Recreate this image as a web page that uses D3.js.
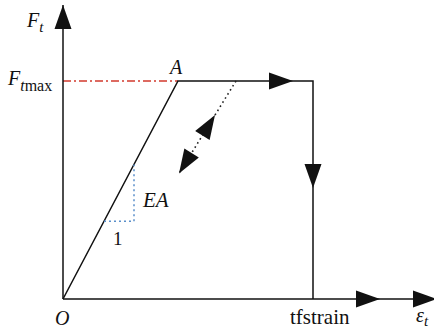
<!DOCTYPE html>
<html>
<head>
<meta charset="utf-8">
<script src="https://cdn.jsdelivr.net/npm/d3@7"></script>
<style>
  html, body { margin: 0; padding: 0; background: #fff; }
  svg { display: block; }
</style>
</head>
<body>
<svg id="chart" width="434" height="329"></svg>
<script>
// Bilinear tension law: strain (x) vs. tensile force (y, normalised to Ftmax)
const loadStrain = [0, 4.6, 10, 10];          // O -> A -> tfstrain plateau -> drop
const loadForce  = [0, 1, 1, 0];

const unloadStrain = [6.92, 4.64];             // unloading / reloading branch
const unloadForce  = [1, 0.576];

const slopeStrain = [1.64, 2.84, 2.84];        // EA slope triangle
const slopeForce  = [0.357, 0.357, 0.617];

const axisStrainMax = 14.96;
const axisForceMax  = 1.349;

// arrowheads: tip position and the direction they point
const arrowTips = [
  { s: 0,     f: axisForceMax, dir: "up" },
  { s: 12.68, f: 0,            dir: "right" },
  { s: axisStrainMax, f: 0,    dir: "right" },
  { s: 9.2,   f: 1,            dir: "right" },
  { s: 10,    f: 0.509,        dir: "down" },
  { s: 6.08,  f: 0.844,        dir: "reload" },
  { s: 4.64,  f: 0.576,        dir: "unload" }
];

const svg = d3.select("#chart");
const FONT = "Liberation Serif";
const x = d3.scaleLinear().domain([0, 10]).range([63, 313]);
const y = d3.scaleLinear().domain([0, 1]).range([299, 81]);

const line = d3.line().x(d => x(d[0])).y(d => y(d[1]));
const zip = (a, b) => a.map((v, i) => [v, b[i]]);

// Ftmax reference line
svg.append("path")
  .attr("d", line([[0, 1], [loadStrain[1], 1]]))
  .attr("fill", "none").attr("stroke", "#d23a2e").attr("stroke-width", 1.3)
  .attr("stroke-dasharray", "8,3,2,3");

// axes
svg.append("path")
  .attr("d", line([[0, 0], [axisStrainMax, 0]]))
  .attr("fill", "none").attr("stroke", "#111").attr("stroke-width", 1.5);
svg.append("path")
  .attr("d", line([[0, 0], [0, axisForceMax]]))
  .attr("fill", "none").attr("stroke", "#111").attr("stroke-width", 1.5);

// loading path
svg.append("path")
  .attr("d", line(zip(loadStrain, loadForce)))
  .attr("fill", "none").attr("stroke", "#111").attr("stroke-width", 1.5);

// unloading branch
svg.append("path")
  .attr("d", line(zip(unloadStrain, unloadForce)))
  .attr("fill", "none").attr("stroke", "#222").attr("stroke-width", 1.6)
  .attr("stroke-dasharray", "1.6,3.2");

// slope triangle
svg.append("path")
  .attr("d", line(zip(slopeStrain, slopeForce)))
  .attr("fill", "none").attr("stroke", "#5a8fca").attr("stroke-width", 1.5)
  .attr("stroke-dasharray", "2,3");

// arrowheads
const L = 24, W = 8.5;
const branchDir = () => {
  const vx = x(unloadStrain[0]) - x(unloadStrain[1]);
  const vy = y(unloadForce[0]) - y(unloadForce[1]);
  return [vx, vy];
};
svg.selectAll("path.head").data(arrowTips).join("path")
  .attr("class", "head")
  .attr("fill", "#111")
  .attr("d", d => {
    const tx = x(d.s), ty = y(d.f);
    let [vx, vy] = { up: [0, -1], down: [0, 1], right: [1, 0] }[d.dir] || branchDir();
    if (d.dir === "unload") { vx = -vx; vy = -vy; }
    const n = Math.hypot(vx, vy); vx /= n; vy /= n;
    const bx = tx - L * vx, by = ty - L * vy;
    return `M${tx},${ty}L${bx - W * vy},${by + W * vx}L${bx + W * vy},${by - W * vx}Z`;
  });

// labels
const label = (px, py, size, italic) => svg.append("text")
  .attr("x", px).attr("y", py).attr("font-size", size)
  .attr("font-family", FONT).attr("fill", "#111")
  .attr("font-style", italic ? "italic" : "normal");

const ft = label(27, 27, 20, true);
ft.append("tspan").text("F");
ft.append("tspan").attr("font-size", 15).attr("dy", 5).text("t");

const fmax = label(8, 85, 20, true);
fmax.append("tspan").text("F");
fmax.append("tspan").attr("font-size", 16).attr("dy", 6).text("t");
fmax.append("tspan").attr("font-size", 16).attr("font-style", "normal").text("max");

label(170, 74, 20, true).text("A");
label(143, 207, 21, true).text("EA");
label(113, 245, 19, false).text("1");
label(55, 325, 20, true).text("O");
label(290, 324, 21, false).text("tfstrain");

const eps = label(416, 322, 20, true);
eps.append("tspan").text("ε");
eps.append("tspan").attr("font-size", 15).attr("dy", 4).text("t");
</script>
</body>
</html>
